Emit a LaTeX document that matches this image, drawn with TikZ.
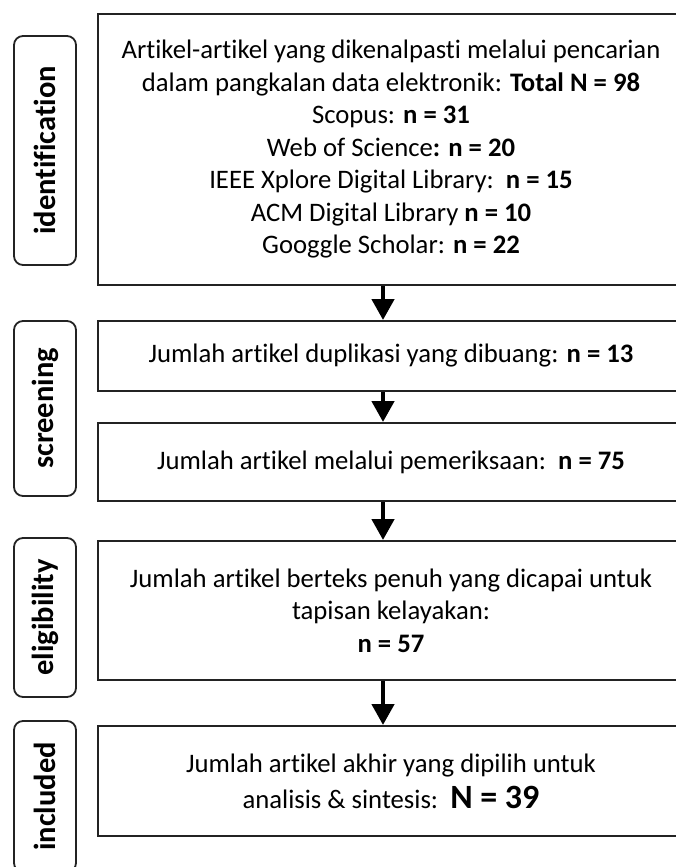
\documentclass[tikz,border=0pt]{standalone}
\usepackage{fontspec}
\setmainfont[Ligatures={NoCommon,NoContextual}]{Carlito}
\usetikzlibrary{arrows.meta,positioning}
\definecolor{framegray}{RGB}{35,35,35}

\begin{document}
\begin{tikzpicture}[x=1pt, y=-1pt, every node/.style={font=\fontsize{26.7}{32.5}\selectfont}]
  \tikzset{
    stagebox/.style={draw=framegray, line width=2pt, minimum width=586pt, align=center, inner sep=0pt},
    phasetag/.style={draw=framegray, line width=1.8pt, rounded corners=9pt, rotate=90,
      minimum height=62pt, inner sep=0pt, font=\fontsize{30.5}{36}\selectfont\bfseries},
    flowarrow/.style={-{Triangle[length=21pt,width=22pt]}, line width=4.5pt}
  }
  \useasboundingbox (0,0) rectangle (675,867);

  % stage boxes
  \node[stagebox, minimum height=271pt] (idsearch) at (391,149.5)
    {Artikel-artikel yang dikenalpasti melalui pencarian\\
     dalam pangkalan data elektronik: \textbf{Total N = 98}\\
     Scopus: \textbf{n = 31}\\
     Web of Science\textbf{: n = 20}\\
     IEEE Xplore Digital Library:\ \ \textbf{n = 15}\\
     ACM Digital Library \textbf{n = 10}\\
     Googgle Scholar: \textbf{n = 22}};
  \node[stagebox, minimum height=70pt] (dupremoved) at (391,356)
    {Jumlah artikel duplikasi yang dibuang: \textbf{n = 13}};
  \node[stagebox, minimum height=78pt] (screened) at (391,462)
    {Jumlah artikel melalui pemeriksaan:\ \ \textbf{n = 75}};
  \node[stagebox, minimum height=139pt] (fulltext) at (391,610.5)
    {Jumlah artikel berteks penuh yang dicapai untuk\\
     tapisan kelayakan:\\
     \textbf{n = 57}};
  \node[stagebox, minimum height=110pt, font=\fontsize{26.7}{36}\selectfont] (finalset) at (391,781)
    {Jumlah artikel akhir yang dipilih untuk\\
     analisis \& sintesis:\ \ {\fontsize{34}{36}\selectfont\bfseries N = 39}};

  % phase tags
  \node[phasetag, minimum width=229pt] (tagident) at (45,150.5) {identification};
  \node[phasetag, minimum width=175pt] (tagscreen) at (45,408.5) {screening};
  \node[phasetag, minimum width=159pt] (tagelig) at (45,617.5) {eligibility};
  \node[phasetag, minimum width=151pt] (tagincl) at (45,796.5) {included};

  % arrows
  \foreach \a/\b in {idsearch/dupremoved, dupremoved/screened, screened/fulltext, fulltext/finalset}
    \draw[flowarrow] ([xshift=-8pt]\a.south) -- ([xshift=-8pt]\b.north);
\end{tikzpicture}
\end{document}
